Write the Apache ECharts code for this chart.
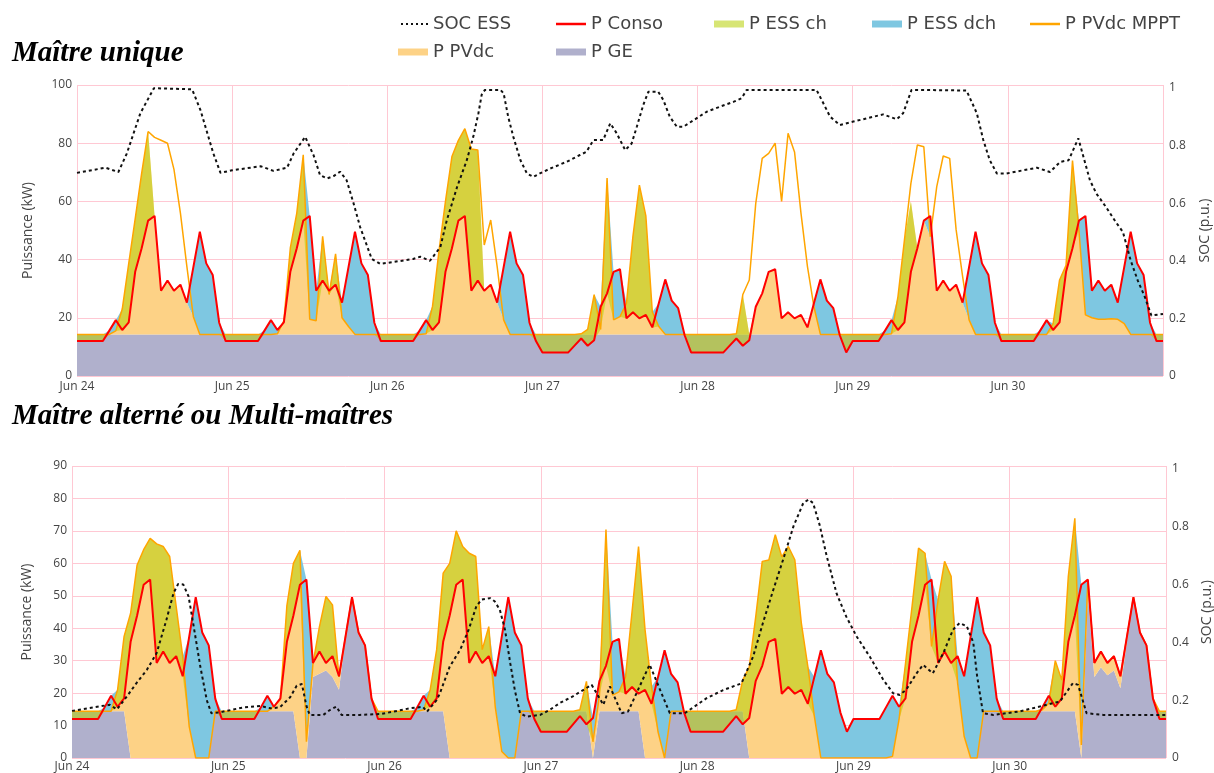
<!DOCTYPE html>
<html>
<head>
<meta charset="utf-8">
<script src="https://cdn.jsdelivr.net/npm/echarts@6/dist/echarts.min.js"></script>
<style>
html,body{margin:0;padding:0;background:#fff;}
#chart{width:1214px;height:773px;}
</style>
</head>
<body>
<div id="chart"></div>
<script>
// ---------- DATA (hourly samples, Jun 24 00:00 -> Jul 1 00:00) ----------
const dayLabels = ['Jun 24','Jun 25','Jun 26','Jun 27','Jun 28','Jun 29','Jun 30'];
const hours = Array.from({length:169}, (_, i) => i);

// P Conso (kW) - same load in both configurations
const pConso = [
 12,12,12,12,12,15.6,19.2,15.8,18.4,35.8,43.9,53.4,55,29.3,32.8,29.3,31.4,25.2,37.4,49.6,38.7,34.7,18.3,12,
 12,12,12,12,12,15.6,19.2,15.8,18.4,35.8,43.9,53.4,55,29.3,32.8,29.3,31.4,25.2,37.4,49.6,38.7,34.7,18.3,12,
 12,12,12,12,12,15.6,19.2,15.8,18.4,35.8,43.9,53.4,55,29.3,32.8,29.3,31.4,25.2,37.4,49.6,38.7,34.7,18.3,12,
 8.1,8.1,8.1,8.1,8.1,10.5,12.9,10.4,12.3,23.8,28.4,35.8,36.7,19.8,21.9,19.8,21,16.7,25,33.2,25.9,23.3,14,8.1,
 8.1,8.1,8.1,8.1,8.1,10.5,12.9,10.4,12.3,23.8,28.4,35.8,36.7,19.8,21.9,19.8,21,16.7,25,33.2,25.9,23.3,14,8.1,
 12,12,12,12,12,15.6,19.2,15.8,18.4,35.8,43.9,53.4,55,29.3,32.8,29.3,31.4,25.2,37.4,49.6,38.7,34.7,18.3,12,
 12,12,12,12,12,15.6,19.2,15.8,18.4,35.8,43.9,53.4,55,29.3,32.8,29.3,31.4,25.2,37.4,49.6,38.7,34.7,18.3,12,
 12
];

// ---- Maître unique ----
const geMU = [
 14.3,14.3,14.3,14.3,14.3,14.3,14.3,14.3,14.3,14.3,14.3,14.3,14.3,14.3,14.3,14.3,14.3,14.3,14.3,14.3,14.3,14.3,14.3,14.3,
 14.3,14.3,14.3,14.3,14.3,14.3,14.3,14.3,14.3,14.3,14.3,14.3,14.3,14.3,14.3,14.3,14.3,14.3,14.3,14.3,14.3,14.3,14.3,14.3,
 14.3,14.3,14.3,14.3,14.3,14.3,14.3,14.3,14.3,14.3,14.3,14.3,14.3,14.3,14.3,14.3,14.3,14.3,14.3,14.3,14.3,14.3,14.3,14.3,
 14.3,14.3,14.3,14.3,14.3,14.3,14.3,14.3,14.3,14.3,14.3,14.3,14.3,14.3,14.3,14.3,14.3,14.3,14.3,14.3,14.3,14.3,14.3,14.3,
 14.3,14.3,14.3,14.3,14.3,14.3,14.3,14.3,14.3,14.3,14.3,14.3,14.3,14.3,14.3,14.3,14.3,14.3,14.3,14.3,14.3,14.3,14.3,14.3,
 14.3,14.3,14.3,14.3,14.3,14.3,14.3,14.3,14.3,14.3,14.3,14.3,14.3,14.3,14.3,14.3,14.3,14.3,14.3,14.3,14.3,14.3,14.3,14.3,
 14.3,14.3,14.3,14.3,14.3,14.3,14.3,14.3,14.3,14.3,14.3,14.3,14.3,14.3,14.3,14.3,14.3,14.3,14.3,14.3,14.3,14.3,14.3,14.3,
 14.3
];
const mpptMU = [
 0,0,0,0,0,0,1.2,8.7,24.3,39.7,55.3,69.7,67.7,66.7,65.7,56.7,41.7,23.3,6.1,0,0,0,0,0,
 0,0,0,0,0,0,0,0.2,4.7,29.7,41.7,61.7,5.2,4.7,33.7,13.7,27.7,5.7,2.7,0,0,0,0,0,
 0,0,0,0,0,0,0.2,9.7,28.7,45.7,61.1,66.7,70.7,63.7,63.4,30.7,39.3,23.3,5,0,0,0,0,0,
 0,0,0,0,0,0,0.2,1.7,13.7,1.7,53.7,5,6.1,10.7,33.7,51.3,40.7,7.7,2.7,0,0,0,0,0,
 0,0,0,0,0,0,0.2,13.7,18.7,45,60.5,62.2,65.7,45.7,69.1,62.7,41.6,23.3,9.5,0,0,0,0,0,
 0,0,0,0,0,0,0.2,13,32.4,51.9,65.1,64.5,33.6,50.8,61.3,60.5,35.9,19.9,5,0,0,0,0,0,
 0,0,0,0,0,0,0,3.7,18.7,23.7,59.7,35.7,6.7,5.7,5.2,5.2,5.4,5.2,3.7,0,0,0,0,0,
 0
];
const pvMU = [
 0,0,0,0,0,0,1.2,8.7,24.3,39.7,55.3,69.7,40.7,15,18.5,15,17.1,10.9,6.1,0,0,0,0,0,
 0,0,0,0,0,0,0,0.2,4.7,29.7,41.7,61.7,5.2,4.7,33.7,13.7,27.7,5.7,2.7,0,0,0,0,0,
 0,0,0,0,0,0,0.2,9.7,28.7,45.7,61.1,66.7,70.7,63.7,63.4,15,17.1,10.9,5,0,0,0,0,0,
 0,0,0,0,0,0,0.2,1.7,13.7,1.7,53.7,5,6.1,10.7,33.7,51.3,40.7,7.7,2.7,0,0,0,0,0,
 0,0,0,0,0,0,0.2,13.7,0,9.5,14.1,21.5,22.4,5.5,7.6,5.5,6.7,2.4,9.5,0,0,0,0,0,
 0,0,0,0,0,0,0.2,13,32.4,45.7,29.6,39.1,33.6,15,18.5,15,17.1,10.9,5,0,0,0,0,0,
 0,0,0,0,0,0,0,3.7,18.7,23.7,59.7,35.7,6.7,5.7,5.2,5.2,5.4,5.2,3.7,0,0,0,0,0,
 0
];
// SOC ESS (p.u.), [hour, value]
const socMU = [
 [0,0.705],[4.4,0.723],[6.4,0.708],[7.7,0.772],[9.8,0.912],[11.9,0.999],[17.8,0.995],[19.1,0.923],[21.1,0.772],[22.2,0.705],
 [24,0.714],[28.4,0.728],[30.4,0.712],[32.5,0.723],[33.5,0.772],[35.3,0.83],[36.6,0.766],[37.6,0.697],[38.7,0.686],[39.7,0.694],
 [40.7,0.709],[41.7,0.68],[42.8,0.598],[43.8,0.517],[45.6,0.406],[46.9,0.389],[52,0.406],[53.1,0.414],[54.6,0.4],[56.2,0.447],
 [57.2,0.54],[58.8,0.656],[60.3,0.749],[61.3,0.83],[62.1,0.912],[62.6,0.976],[63.1,0.993],[65.5,0.993],[66,0.981],[66.7,0.9],
 [67.5,0.83],[68.6,0.749],[69.6,0.703],[70.6,0.691],[71.6,0.703],[73.2,0.72],[75.8,0.744],[77.8,0.767],[78.8,0.778],[79.9,0.819],
 [81.4,0.819],[82.5,0.877],[83.5,0.842],[84.8,0.784],[85.8,0.807],[86.6,0.865],[87.6,0.941],[88.4,0.987],[89.9,0.987],[90.7,0.958],
 [91.7,0.9],[92.8,0.865],[93.8,0.865],[95.4,0.888],[97.4,0.917],[99.5,0.935],[101.6,0.952],[102.8,0.964],[103.6,0.993],[114.4,0.993],
 [115.2,0.958],[116.5,0.9],[118,0.871],[120.1,0.883],[124.7,0.908],[126.8,0.891],[127.8,0.912],[129.1,0.993],[137.6,0.991],[139.2,0.912],
 [140.2,0.819],[141.2,0.749],[142.3,0.703],[143.8,0.703],[148.5,0.723],[150.5,0.708],[152.1,0.743],[153.4,0.749],[154.9,0.825],[156.7,0.679],
 [157.7,0.633],[159.2,0.586],[160.7,0.534],[161.8,0.5],[163,0.401],[164.1,0.331],[165.2,0.274],[166.2,0.21],[168,0.215]
];

// ---- Maître alterné ou Multi-maîtres ----
const geMM = [
 14.4,14.4,14.4,14.4,14.4,14.4,14.4,14.4,14.4,0,0,0,0,0,0,0,0,0,0,0,0,0,14.4,14.4,
 14.4,14.4,14.4,14.4,14.4,14.4,14.4,14.4,14.4,14.4,14.4,0,0,25,26,27,25,21,37.4,49.6,38.7,34.7,18.3,14.4,
 14.4,14.4,14.4,14.4,14.4,14.4,14.4,14.4,14.4,14.4,0,0,0,0,0,0,0,0,0,0,0,14.4,14.4,14.4,
 14.4,14.4,14.4,14.4,14.4,14.4,14.4,14.4,0,14.4,14.4,14.4,14.4,14.4,14.4,14.4,0,0,0,0,14.4,14.4,14.4,14.4,
 14.4,14.4,14.4,14.4,14.4,14.4,14.4,14.4,0,0,0,0,0,0,0,0,0,0,0,0,0,0,0,0,
 0,0,0,0,0,0,0,0,0,0,0,0,0,0,0,0,0,0,0,0,14.4,14.4,14.4,14.4,
 14.4,14.4,14.4,14.4,14.4,14.4,14.4,14.4,14.4,14.4,14.4,0,51,25,28,25.5,27,21.5,36,49.6,38.7,34.7,18.3,14.4,
 14.4
];
const pvMM = [
 0,0,0,0,0,0,0,6.6,23.1,44.6,59.5,64.2,67.7,66,65.2,62.1,46.7,31.3,9.7,0,0,0,0,0,
 0,0,0,0,0,0,0,1.5,3.6,32.6,45.6,64,5,4,14.5,22.8,22.2,4,0,0,0,0,0,0,
 0,0,0,0,0,0,0.5,6.6,19,42.6,60,70,65.2,63.1,62.1,33.4,40.5,15.7,2,0,0,0,0,0,
 0,0,0,0,0,0,0.5,9.2,5,5,56,5,6,10.6,30.6,50.8,39.5,22,8,0,0,0,0,0,
 0,0,0,0,0,0,0.5,9.6,28,43.6,60.6,61,68.8,62,65.2,61.1,41.6,28.2,12.8,0,0,0,0,0,
 0,0,0,0,0,0,0.5,11.8,29.2,46.7,64.7,63.1,34.4,48.7,60.6,56,23.1,6.7,0,0,0,0,0,0,
 0,0,0,0,0,0.5,2.5,15.6,9.6,41.6,59.5,4,4,4.3,4.8,3.8,4.4,3.7,1.4,0,0,0,0,0,
 0
];
const mpptMM = [
 0,0,0,0,0,0,0,6.6,23.1,44.6,59.5,64.2,67.7,66,65.2,62.1,46.7,31.3,9.7,0,0,0,0,0,
 0,0,0,0,0,0,0,1.5,3.6,32.6,45.6,64,5,4,14.5,22.8,22.2,4,0,0,0,0,0,0,
 0,0,0,0,0,0,0.5,6.6,19,42.6,60,70,65.2,63.1,62.1,33.4,40.5,15.7,2,0,0,0,0,0,
 0,0,0,0,0,0,0.5,9.2,5,5,56,5,6,10.6,30.6,50.8,39.5,22,8,0,0,0,0,0,
 0,0,0,0,0,0,0.5,9.6,28,43.6,60.6,61,68.8,62,65.2,61.1,41.6,28.2,12.8,0,0,0,0,0,
 0,0,0,0,0,0,0.5,11.8,29.2,46.7,64.7,63.1,34.4,48.7,60.6,56,23.1,6.7,0,0,0,0,0,0,
 0,0,0,0,0,0.5,2.5,15.6,9.6,41.6,59.5,4,4,4.3,4.8,3.8,4.4,3.7,1.4,0,0,0,0,0,
 0
];
const socMM = [
 [0,0.163],[3.3,0.175],[5.8,0.184],[6.9,0.168],[8.4,0.212],[9.9,0.259],[11.5,0.305],[13,0.363],[14.5,0.478],[15.6,0.571],
 [16.3,0.602],[17.1,0.6],[17.9,0.559],[18.6,0.467],[19.7,0.317],[20.7,0.2],[21.4,0.155],[22.7,0.158],[26.3,0.175],[28.9,0.18],
 [30.5,0.172],[31.9,0.175],[33.5,0.21],[34.5,0.25],[35.3,0.256],[36,0.18],[36.5,0.149],[38.6,0.149],[39.6,0.166],[40.6,0.178],
 [41.4,0.149],[44.2,0.149],[47.3,0.152],[49.3,0.16],[51.9,0.172],[53.9,0.177],[54.5,0.16],[56,0.2],[56.5,0.224],[58,0.316],
 [59.6,0.374],[60.9,0.443],[62.1,0.525],[62.9,0.548],[64.2,0.553],[64.9,0.542],[65.7,0.513],[66.5,0.443],[67.3,0.328],[68,0.235],
 [68.8,0.155],[69.8,0.143],[71.9,0.149],[73.4,0.167],[74.9,0.19],[76.9,0.213],[79,0.242],[79.8,0.253],[81.6,0.184],[82.6,0.248],
 [84.4,0.155],[85.4,0.161],[88.7,0.323],[91.8,0.155],[94.1,0.155],[97.4,0.206],[100,0.235],[102.8,0.258],[104.6,0.351],[106.1,0.467],
 [107.7,0.582],[109.2,0.686],[110.8,0.802],[112.3,0.882],[113.1,0.894],[113.8,0.882],[114.8,0.807],[115.9,0.698],[117.4,0.57],[118.9,0.489],
 [120.5,0.42],[122.5,0.351],[124.6,0.27],[126.1,0.224],[127.1,0.218],[128.1,0.236],[129.7,0.293],[130.7,0.322],[132.2,0.293],[133.8,0.363],
 [135.3,0.444],[136.3,0.467],[137.4,0.456],[138.4,0.4],[139,0.282],[139.9,0.155],[141.5,0.149],[145.5,0.161],[148.6,0.178],[150.7,0.19],
 [151.7,0.195],[153.7,0.259],[154.5,0.253],[155.8,0.155],[158.4,0.149],[168,0.149]
];

// ---------- STYLE ----------
const C = {
  ge:'#b0b0cc', pv:'#fdd286', dch:'#7ec7e1', ch:'rgba(183,208,7,0.56)',
  mppt:'#ffa500', conso:'#ff0000', soc:'#111111', grid:'#ffc8d3', text:'#444'
};
const tickFont = {fontFamily:'Open Sans', fontSize:12, color:C.text};

function panelSeries(k, ge, pv, mppt, soc){
  // ESS power = gap between the stacked supply (GE + PV) and the consumption
  const supply = ge.map((g, i) => g + pv[i]);
  const essDch = pConso.map((c, i) => Math.max(0, +(c - supply[i]).toFixed(3)));
  const chBase = pConso.map((c, i) => Math.min(c, supply[i]));
  const essCh = pConso.map((c, i) => Math.max(0, +(supply[i] - c).toFixed(3)));
  const common = {type:'line', xAxisIndex:k, yAxisIndex:2*k, symbol:'none', showSymbol:false,
                  animation:false, silent:true, smooth:false};
  const hidden = {width:0, opacity:0};
  return [
    Object.assign({}, common, {name:'P GE', stack:'sup'+k, data:ge, color:C.ge,
      lineStyle:hidden, areaStyle:{color:C.ge, opacity:1}}),
    Object.assign({}, common, {name:'P PVdc', stack:'sup'+k, data:pv, color:C.pv,
      lineStyle:hidden, areaStyle:{color:C.pv, opacity:1}}),
    Object.assign({}, common, {name:'P ESS dch', stack:'sup'+k, data:essDch, color:C.dch,
      lineStyle:hidden, areaStyle:{color:C.dch, opacity:1}}),
    Object.assign({}, common, {name:'chbase'+k, stack:'chg'+k, data:chBase, lineStyle:hidden}),
    Object.assign({}, common, {name:'P ESS ch', stack:'chg'+k, data:essCh, color:C.ch,
      lineStyle:hidden, areaStyle:{color:C.ch, opacity:1}}),
    Object.assign({}, common, {name:'mpbase'+k, stack:'mp'+k, data:ge, lineStyle:hidden}),
    Object.assign({}, common, {name:'P PVdc MPPT', stack:'mp'+k, data:mppt, color:C.mppt,
      lineStyle:{width:1.5, color:C.mppt}}),
    Object.assign({}, common, {name:'P Conso', data:pConso, color:C.conso,
      lineStyle:{width:2, color:C.conso}}),
    Object.assign({}, common, {name:'SOC ESS', xAxisIndex:2+k, yAxisIndex:2*k+1, data:soc, color:C.soc,
      lineStyle:{width:2, color:C.soc, type:[3,3]}})
  ];
}

function xAxisCat(k, margin){
  return {gridIndex:k, type:'category', data:hours, boundaryGap:false,
    axisLine:{show:false}, axisTick:{show:false},
    splitLine:{show:true, interval:23, lineStyle:{color:C.grid, width:1}},
    axisLabel:Object.assign({}, tickFont, {margin:margin, interval:23,
      formatter: (v, i) => dayLabels[i/24] || ''})};
}
function xAxisVal(k){
  return {gridIndex:k, type:'value', min:0, max:168, show:false, splitLine:{show:false}};
}
function yLeft(k, max, step, gap){
  return {gridIndex:k, type:'value', position:'left', min:0, max:max, interval:step,
    name:'Puissance (kW)', nameLocation:'middle', nameRotate:90, nameGap:gap,
    nameTextStyle:{fontFamily:'Open Sans', fontSize:14, color:C.text},
    axisLine:{show:false}, axisTick:{show:false},
    splitLine:{show:true, lineStyle:{color:C.grid, width:1}},
    axisLabel:Object.assign({}, tickFont, {margin:5})};
}
function yRight(k, gap){
  return {gridIndex:k, type:'value', position:'right', min:0, max:1.01, interval:0.2,
    name:'SOC (p.u.)', nameLocation:'middle', nameRotate:90, nameGap:gap,
    nameTextStyle:{fontFamily:'Open Sans', fontSize:14, color:C.text},
    axisLine:{show:false}, axisTick:{show:false}, splitLine:{show:false},
    axisLabel:Object.assign({}, tickFont, {margin:6, showMaxLabel:false,
      formatter: v => (Math.abs(v*5 - Math.round(v*5)) < 1e-6 ? String(+v.toFixed(1)) : '')})};
}

const legendDefs = [
  {name:'SOC ESS', x:433, y:24, w:27, h:2,
   icon:'path://M0,0h2v2h-2z M5,0h2v2h-2z M10,0h2v2h-2z M15,0h2v2h-2z M20,0h2v2h-2z M25,0h2v2h-2z', color:'#111'},
  {name:'P Conso', x:591, y:24, w:30, h:2.5, icon:'rect', color:C.conso},
  {name:'P ESS ch', x:749, y:24, w:30, h:7, icon:'rect', color:C.ch},
  {name:'P ESS dch', x:907, y:24, w:30, h:7, icon:'rect', color:C.dch},
  {name:'P PVdc MPPT', x:1065, y:24, w:30, h:2.5, icon:'rect', color:C.mppt},
  {name:'P PVdc', x:433, y:52, w:30, h:7, icon:'rect', color:C.pv},
  {name:'P GE', x:591, y:52, w:30, h:7, icon:'rect', color:C.ge}
];
const legends = legendDefs.map(d => ({
  left: d.x - d.w - 5, top: d.y - 10, padding:0, itemWidth:d.w, itemHeight:d.h,
  selectedMode:false,
  textStyle:{fontFamily:'DejaVu Sans', fontSize:18, color:'#444', lineHeight:20},
  data:[{name:d.name, icon:d.icon, itemStyle:{color:d.color, borderWidth:0}}]
}));

const titleStyle = {fontFamily:'Liberation Serif', fontStyle:'italic', fontWeight:'bold', fontSize:29, color:'#000'};

const option = {
  backgroundColor:'#ffffff',
  animation:false,
  title:[
    {text:'Maître unique', left:12, top:39, padding:0, textStyle:titleStyle},
    {text:'Maître alterné ou Multi-maîtres', left:12, top:402, padding:0, textStyle:titleStyle}
  ],
  legend:legends,
  grid:[
    {left:77, right:51, top:85, height:291, containLabel:false, outerBoundsMode:'none'},
    {left:72, right:48, top:466, height:292, containLabel:false, outerBoundsMode:'none'}
  ],
  xAxis:[xAxisCat(0, 5), xAxisCat(1, 3), xAxisVal(0), xAxisVal(1)],
  yAxis:[yLeft(0, 100, 20, 42), yRight(0, 35), yLeft(1, 90, 10, 38), yRight(1, 33)],
  series:[].concat(
    panelSeries(0, geMU, pvMU, mpptMU, socMU),
    panelSeries(1, geMM, pvMM, mpptMM, socMM)
  )
};

const chart = echarts.init(document.getElementById('chart'), null, {renderer:'canvas'});
chart.setOption(option);
</script>
</body>
</html>
